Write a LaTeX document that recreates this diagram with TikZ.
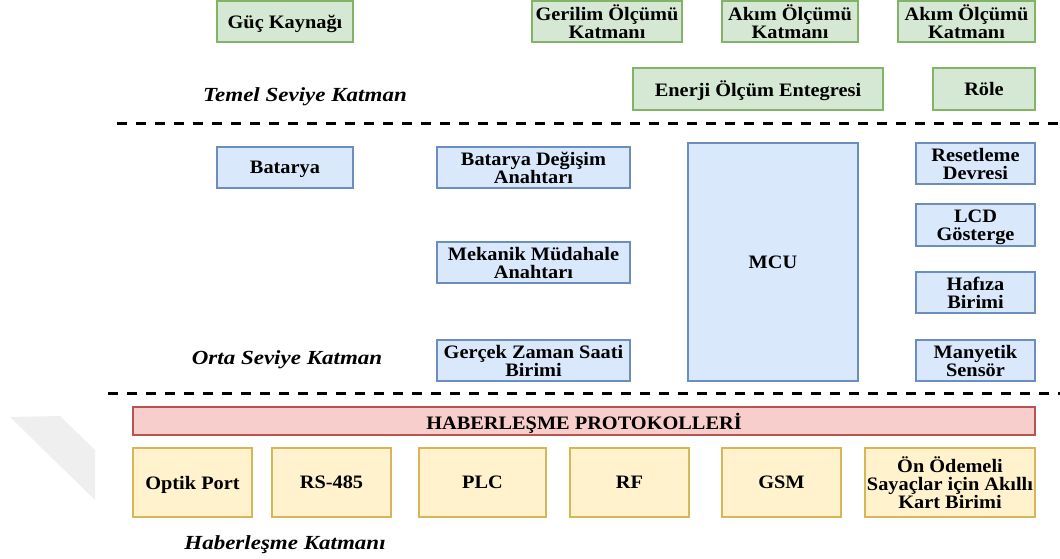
\documentclass[tikz,border=0pt]{standalone}
\usepackage{fontspec}
\setmainfont{Liberation Serif}[FakeStretch=1.07]
\newfontfamily\layerfamily{Liberation Serif}[FakeStretch=1.15]
\definecolor{gfill}{HTML}{D5E8D4}\definecolor{gdraw}{HTML}{82B366}
\definecolor{bfill}{HTML}{DAE8FC}\definecolor{bdraw}{HTML}{6C8EBF}
\definecolor{rfill}{HTML}{F8CECC}\definecolor{rdraw}{HTML}{B85450}
\definecolor{yfill}{HTML}{FFF2CC}\definecolor{ydraw}{HTML}{D6B656}
\definecolor{wmark}{HTML}{EFEFEF}
\tikzset{
  unit/.style={rectangle, inner sep=0pt, align=center, line width=1.5pt,
    text depth=0pt, font=\fontsize{19}{18}\selectfont\bfseries},
  gbox/.style={unit, fill=gfill, draw=gdraw},
  bbox/.style={unit, fill=bfill, draw=bdraw},
  rbox/.style={unit, fill=rfill, draw=rdraw},
  ybox/.style={unit, fill=yfill, draw=ydraw},
  layer/.style={font=\layerfamily\fontsize{20}{22}\selectfont\bfseries\itshape},
  divider/.style={line width=3pt, dash pattern=on 10pt off 9pt},
}
\begin{document}
\begin{tikzpicture}[x=1pt, y=-1pt]
\useasboundingbox (0,0) rectangle (1060,559);

% faint background mark
\fill[wmark] (10,417) -- (60,416) -- (95,450) -- (95,500) -- cycle;

% base layer
\node[gbox, minimum width=136, minimum height=41] (guc) at (285,21.5) {Güç Kaynağı};
\node[gbox, minimum width=150, minimum height=41] (ger) at (607,21.5) {Gerilim Ölçümü\\Katmanı};
\node[gbox, minimum width=136, minimum height=41] (akim1) at (790,21.5) {Akım Ölçümü\\Katmanı};
\node[gbox, minimum width=137, minimum height=41] (akim2) at (966.5,21.5) {Akım Ölçümü\\Katmanı};
\node[gbox, minimum width=250, minimum height=42] (enerji) at (758,89) {Enerji Ölçüm Entegresi};
\node[gbox, minimum width=102, minimum height=42] (role) at (984,89) {Röle};
\node[layer] (temel) at (305,97) {Temel Seviye Katman};

\coordinate (d1a) at (117,124);
\coordinate (d1b) at (1060,124);
\draw[divider] (d1a) -- (d1b);

% middle layer
\node[bbox, minimum width=136, minimum height=41] (bat) at (285,167.5) {Batarya};
\node[bbox, minimum width=193, minimum height=41] (bds) at (533.5,167.5) {Batarya Değişim\\Anahtarı};
\node[bbox, minimum width=193, minimum height=41] (mek) at (533.5,262.5) {Mekanik Müdahale\\Anahtarı};
\node[bbox, minimum width=193, minimum height=41] (rtc) at (533.5,360.5) {Gerçek Zaman Saati\\Birimi};
\node[bbox, minimum width=170, minimum height=238] (mcu) at (773,262) {MCU};
\node[bbox, minimum width=119, minimum height=41] (reset) at (975.5,163.5) {Resetleme\\Devresi};
\node[bbox, minimum width=119, minimum height=42] (lcd) at (975.5,225) {LCD\\Gösterge};
\node[bbox, minimum width=119, minimum height=41] (haf) at (975.5,292.5) {Hafıza\\Birimi};
\node[bbox, minimum width=119, minimum height=41] (mag) at (975.5,360.5) {Manyetik\\Sensör};
\node[layer] (orta) at (287,360) {Orta Seviye Katman};

\coordinate (d2a) at (108,393);
\coordinate (d2b) at (1060,393);
\draw[divider] (d2a) -- (d2b);

% communication layer
\node[rbox, minimum width=902, minimum height=28] (proto) at (584,421) {HABERLEŞME PROTOKOLLERİ};
\node[ybox, minimum width=119, minimum height=69] (optik) at (192.5,482.5) {Optik Port};
\node[ybox, minimum width=119, minimum height=69] (rs) at (331.5,482.5) {RS-485};
\node[ybox, minimum width=127, minimum height=69] (plc) at (482.5,482.5) {PLC};
\node[ybox, minimum width=119, minimum height=69] (rf) at (629.5,482.5) {RF};
\node[ybox, minimum width=119, minimum height=69] (gsm) at (781.5,482.5) {GSM};
\node[ybox, minimum width=170, minimum height=69] (kart) at (950,482.5) {Ön Ödemeli\\Sayaçlar için Akıllı\\Kart Birimi};
\node[layer] (haber) at (285,545) {Haberleşme Katmanı};
\end{tikzpicture}
\end{document}
